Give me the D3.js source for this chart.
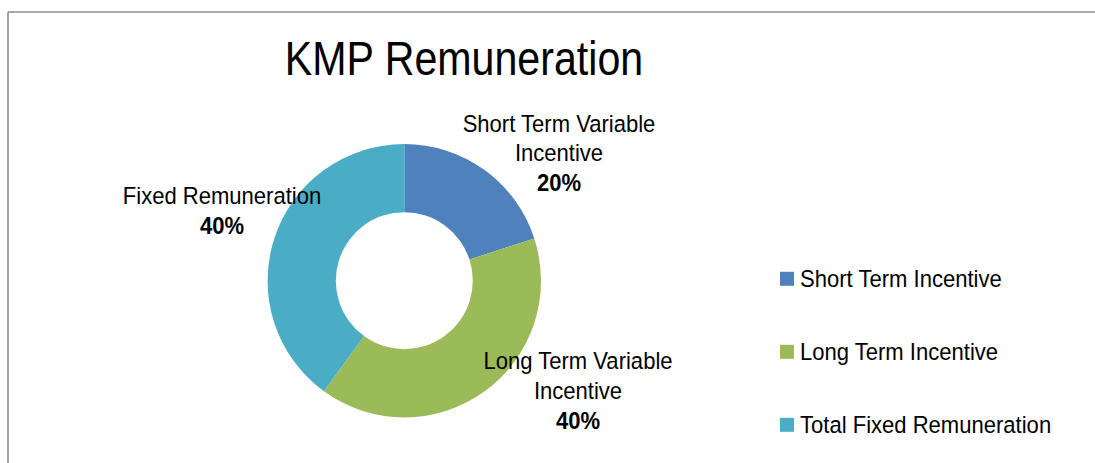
<!DOCTYPE html>
<html>
<head>
<meta charset="utf-8">
<script src="https://cdn.jsdelivr.net/npm/d3@7"></script>
<style>
  html, body { margin: 0; padding: 0; background: #fff; }
  svg { display: block; }
  text { font-family: "Liberation Sans Narrow", "Arial Narrow", "Liberation Sans", Arial, sans-serif; fill: #000; }
</style>
</head>
<body>
<svg id="chart" width="1095" height="463"></svg>
<script>
const title = "KMP Remuneration";
const categories = ["Short Term Incentive", "Long Term Incentive", "Total Fixed Remuneration"];
const values = [20, 40, 40];
const labelLines = [["Short Term Variable", "Incentive"], ["Long Term Variable", "Incentive"], ["Fixed Remuneration"]];
const percentLabels = ["20%", "40%", "40%"];
const colors = ["#4F81BD", "#9BBB59", "#4BACC6"];

const svg = d3.select("#chart");
const W = 1095, H = 463;
const condTitle = 0.84, condText = 0.9;

// chart frame
svg.append("line").attr("x1", 8).attr("x2", W).attr("y1", 12).attr("y2", 12)
  .attr("stroke", "#8c8c8c").attr("stroke-width", 1.6);
svg.append("line").attr("x1", 8).attr("x2", 8).attr("y1", 12).attr("y2", H)
  .attr("stroke", "#8c8c8c").attr("stroke-width", 1.6);

// title
svg.append("g").attr("transform", `translate(464,75) scale(${condTitle},1)`)
  .append("text").attr("text-anchor", "middle").attr("font-size", 49).text(title);

const cx = 404.3, cy = 280.7, rOuter = 136.7, rInner = 68.5;
const pie = d3.pie().sort(null).value(d => d);
const arcs = pie(values);
const arc = d3.arc().innerRadius(rInner).outerRadius(rOuter);
const color = d3.scaleOrdinal().domain(categories).range(colors);

const g = svg.append("g").attr("transform", `translate(${cx},${cy})`);
g.selectAll("path").data(arcs).join("path")
  .attr("d", arc)
  .attr("fill", (d, i) => color(categories[i]));

// data labels
const labelPos = [[559, 131.5], [578, 369.3], [222, 204.3]];
const lineH = 30;
arcs.forEach((a, i) => {
  const [lx, ly] = labelPos[i];
  const t = svg.append("g").attr("transform", `translate(${lx},${ly}) scale(${condText},1)`)
    .append("text").attr("text-anchor", "middle").attr("font-size", 24.5);
  const lines = labelLines[i];
  lines.forEach((ln, j) => {
    t.append("tspan").attr("x", 0).attr("y", j * lineH).text(ln);
  });
  t.append("tspan").attr("x", 0).attr("y", lines.length * lineH)
    .attr("font-weight", "bold").text(percentLabels[i]);
});

// legend
const legY = [287.3, 360.3, 433.3];
const leg = svg.append("g");
categories.forEach((c, i) => {
  leg.append("rect").attr("x", 780).attr("y", legY[i] - 15.5).attr("width", 14).attr("height", 14)
    .attr("fill", color(c));
  leg.append("g").attr("transform", `translate(800,${legY[i]}) scale(${condText},1)`)
    .append("text").attr("font-size", 24.5).text(c);
});
</script>
</body>
</html>
